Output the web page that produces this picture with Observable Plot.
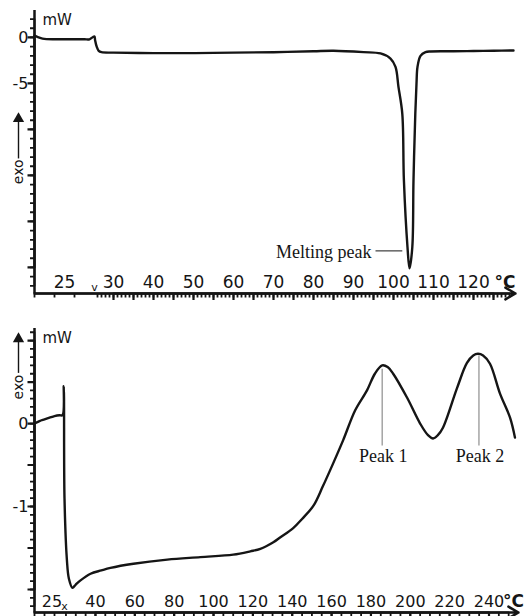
<!DOCTYPE html>
<html><head><meta charset="utf-8">
<script src="https://cdn.jsdelivr.net/npm/d3@7"></script>
<script src="https://cdn.jsdelivr.net/npm/@observablehq/plot@0.6"></script>
<style>
html,body{margin:0;padding:0;background:#fff;}
#chart svg{display:block;}
</style></head><body><div id="chart"></div>
<script>
// ---------- Panel A (top): isothermal hold at 25 °C (time axis, min), then heating (°C) ----------
const holdA_t  = [-6, -5.6, -5.2, -4.8, -4, -3, -2, -1, -0.5, -0.15, 0];
const holdA_mW = [0.2, 0.02, -0.12, -0.18, -0.2, -0.2, -0.2, -0.2, -0.2, 0.05, 0.1];
const heatA_T  = [25.4, 25.8, 26.3, 27, 30, 40, 50, 60, 70, 80, 85, 92.5, 96.75, 99.25, 100.5, 101.25, 102.2, 102.6, 103.5, 104, 104.7, 105, 105.45, 105.75, 106, 106.75, 108, 109.25, 115, 120, 125, 130];
const heatA_mW = [-0.3, -1.0, -1.45, -1.6, -1.65, -1.7, -1.7, -1.65, -1.6, -1.5, -1.45, -1.6, -1.74, -2.3, -3.2, -5.4, -8.3, -15.5, -22.8, -25.1, -22.8, -15.5, -8.3, -5.0, -3.2, -2.0, -1.6, -1.52, -1.5, -1.47, -1.44, -1.41];
const ticksA_labels = [30, 40, 50, 60, 70, 80, 90, 100, 110, 120];
const holdA_label = {x: -3, text: "25"};
const yA_labels = [0, -5];
const meltLabel = "Melting peak";
const meltLine = {x1: 95.5, x2: 102.2, y: -23.2};

// ---------- Panel B (bottom) ----------
const holdB_t  = [-6, -5, -4, -3, -2, -1, -0.4, -0.15, 0];
const holdB_mW = [0.0, 0.03, 0.05, 0.07, 0.09, 0.1, 0.1, 0.45, -0.9];
const heatB_T  = [25.5, 26.5, 28.3, 30, 32.4, 37.5, 43, 47.6, 59.3, 76.5, 93.3, 110, 118.7, 123.8, 130.4, 134, 140.5, 145, 150.8, 155.5, 160.8, 165.9, 172, 178, 182, 185.7, 188.5, 191.3, 198.4, 205, 209, 211.6, 214, 216.6, 223.8, 228.8, 232, 234.4, 237, 240.5, 245.6, 250.7, 253.2];
const heatB_mW = [-1.65, -1.87, -1.98, -1.94, -1.89, -1.81, -1.77, -1.74, -1.69, -1.64, -1.61, -1.58, -1.54, -1.51, -1.43, -1.37, -1.26, -1.15, -0.99, -0.76, -0.48, -0.2, 0.16, 0.4, 0.6, 0.7, 0.68, 0.6, 0.31, 0.0, -0.14, -0.18, -0.14, -0.05, 0.43, 0.73, 0.82, 0.84, 0.82, 0.72, 0.36, 0.07, -0.17];
const ticksB_labels = [40, 60, 80, 100, 120, 140, 160, 180, 200, 220, 240];
const holdB_label = {x: -2.5, text: "25"};
const yB_labels = [0, -1];
const peakNames = ["Peak 1", "Peak 2"];
const peakT = [185.7, 234.9];
const peakTop = [0.66, 0.82];
const peakBottom = -0.265;
const peakTextY = -0.4;

const INK = "#151515";
const SANS = "'DejaVu Sans', 'Liberation Sans', sans-serif";
const SERIF = "'Liberation Serif', 'Times New Roman', serif";
const range = (a, b, s) => d3.range(Math.round(a / s), Math.round(b / s) + 1).map(i => +(i * s).toFixed(4));

function curveTable(ht, hv, tt, tv) {
  return [...ht.map((x, i) => ({x, v: hv[i]})), ...tt.map((x, i) => ({x, v: tv[i]}))];
}

// broken x axis: values <= 0 are hold-time (min), values > 0 are temperatures (°C)
function brokenAxis(holdStart, holdPx, breakPx, breakT, pxPerDeg) {
  return d => d <= 1 ? holdPx[0] + (d - holdStart) * (holdPx[1] - holdPx[0]) / (0 - holdStart)
                     : breakPx + (d - breakT) * pxPerDeg;
}

function panel(cfg) {
  const [y0, y1] = cfg.yDomain;
  const xs = cfg.xStart;
  const labels = [cfg.holdLabel, ...cfg.tickLabels.map(d => ({x: d, text: String(d)}))];
  // tick "combs": one path that runs along the axis and steps out at every tick value
  const xComb = (vals, len) => vals.flatMap(v => [{x: v, y: y0}, {x: v, y: y0 - len * cfg.yPerPx}, {x: v, y: y0}]);
  const yComb = (vals, len) => vals.flatMap(v => [{x: xs, y: v}, {x: xs - len * cfg.tPerPx, y: v}, {x: xs, y: v}]);
  const comb = (pts, sw) => Plot.line(pts, {x: "x", y: "y", stroke: INK, strokeWidth: sw, curve: "linear", strokeLinejoin: "miter"});
  return Plot.plot({
    width: 531, height: cfg.height,
    marginLeft: 34, marginRight: 531 - cfg.xEndPx,
    marginTop: cfg.marginTop, marginBottom: cfg.marginBottom,
    style: {background: "#fff", overflow: "visible", fontFamily: SANS},
    x: {transform: cfg.xTransform, domain: [34, cfg.xEndPx], range: [34, cfg.xEndPx], axis: null},
    y: {domain: cfg.yDomain, axis: null},
    marks: [
      // y axis
      comb(yComb(cfg.yMinor, 4.5), 1.8),
      comb(yComb(cfg.yMajor, 7), 2.2),
      Plot.ruleX([xs], {x: d => d, y1: () => y0, y2: () => y1, stroke: INK, strokeWidth: 2.5}),
      Plot.text(cfg.yLabels, {y: d => d, text: d => String(d), frameAnchor: "left", dx: -6, textAnchor: "end", fontSize: 16, fill: INK}),
      // x axis
      comb(xComb(cfg.xMinor, 4), 1.8),
      comb(xComb(cfg.xMajor, 6.5), 2.2),
      Plot.arrow([0], {x1: () => xs, x2: () => cfg.xEnd, y1: () => y0, y2: () => y0, stroke: INK, strokeWidth: 2.5, headLength: 7, headAngle: 60}),
      Plot.text([cfg.breakGlyph], {x: () => 0, text: d => d, frameAnchor: "bottom", dy: -3, fontSize: 11, fill: INK}),
      // x tick labels (inside the frame, above the axis)
      Plot.text(labels, {x: "x", text: "text", frameAnchor: "bottom", lineAnchor: "bottom", dy: -6, fontSize: cfg.labelSize, fill: INK}),
      Plot.text(["°C"], {x: () => cfg.unitX, text: d => d, frameAnchor: "bottom", lineAnchor: "bottom", dy: -6, fontSize: 17, fontWeight: "bold", fill: INK}),
      // units and exo arrow
      Plot.text(["mW"], {x: () => xs, y: () => cfg.mWy, text: d => d, dx: 8, textAnchor: "start", fontSize: 15, fill: INK}),
      Plot.link([0], {x1: () => xs, x2: () => xs, y1: () => cfg.exo[0], y2: () => cfg.exo[1], dx: -16, stroke: INK, strokeWidth: 1.4}),
      Plot.dot([0], {x: () => xs, y: () => cfg.exo[1], dx: -16, dy: 5, symbol: "triangle", r: 4.2, fill: INK, stroke: null}),
      Plot.text(["exo"], {x: () => xs, y: () => cfg.exoText, text: d => d, dx: -16, rotate: -90, fontSize: 14, fill: INK}),
      // curve
      Plot.line(cfg.data, {x: "x", y: "v", stroke: INK, strokeWidth: 2.4, curve: "catmull-rom"}),
      ...cfg.extra
    ]
  });
}

const topPlot = panel({
  height: 300, marginTop: 10, marginBottom: 7,
  xTransform: brokenAxis(-6, [34, 94], 94, 25.25, 4), xStart: -6, xEnd: 130.5, xEndPx: 515,
  yDomain: [-27.83, 2.93], yPerPx: 1 / 9.2, tPerPx: 0.1,
  yMinor: range(-27, 2, 1), yMajor: range(-25, 0, 5), yLabels: yA_labels,
  xMinor: [-6, -4, -2, ...range(26, 129, 1)], xMajor: range(30, 125, 5),
  holdLabel: holdA_label, tickLabels: ticksA_labels, labelSize: 17, unitX: 127.9, breakGlyph: "v",
  mWy: 1.9, exo: [-13.15, -8.3], exoText: -14.6,
  data: curveTable(holdA_t, holdA_mW, heatA_T, heatA_mW),
  extra: [
    Plot.link([meltLine], {x1: "x1", x2: "x2", y1: "y", y2: "y", stroke: INK, strokeWidth: 1}),
    Plot.text([meltLabel], {x: () => meltLine.x1, y: () => meltLine.y, text: d => d, dx: -4, dy: 1, textAnchor: "end", fontFamily: SERIF, fontSize: 18, fill: INK})
  ]
});

const peaks = peakNames.map((name, i) => ({name, x: peakT[i], top: peakTop[i]}));
const bottomPlot = panel({
  height: 316, marginTop: 28, marginBottom: 4,
  xTransform: brokenAxis(-6, [34, 64], 64, 24.26, 1.9676), xStart: -6, xEnd: 255, xEndPx: 518,
  yDomain: [-2.277, 1.145], yPerPx: 1 / 83, tPerPx: 0.2,
  yMinor: range(-2.2, 1.1, 0.1), yMajor: range(-2, 1, 0.5), yLabels: yB_labels,
  xMinor: [-6, -4, -2, ...range(25, 250, 5)], xMajor: range(40, 240, 20),
  holdLabel: holdB_label, tickLabels: ticksB_labels, labelSize: 16, unitX: 252.5, breakGlyph: "x",
  mWy: 1.03, exo: [0.61, 1.08], exoText: 0.44,
  data: curveTable(holdB_t, holdB_mW, heatB_T, heatB_mW),
  extra: [
    Plot.link(peaks, {x1: "x", x2: "x", y1: "top", y2: () => peakBottom, stroke: "#777", strokeWidth: 1}),
    Plot.text(peaks, {x: "x", y: () => peakTextY, text: "name", dx: 1, fontFamily: SERIF, fontSize: 18, fill: INK})
  ]
});

const root = document.getElementById("chart");
root.append(topPlot, bottomPlot);
</script></body></html>
